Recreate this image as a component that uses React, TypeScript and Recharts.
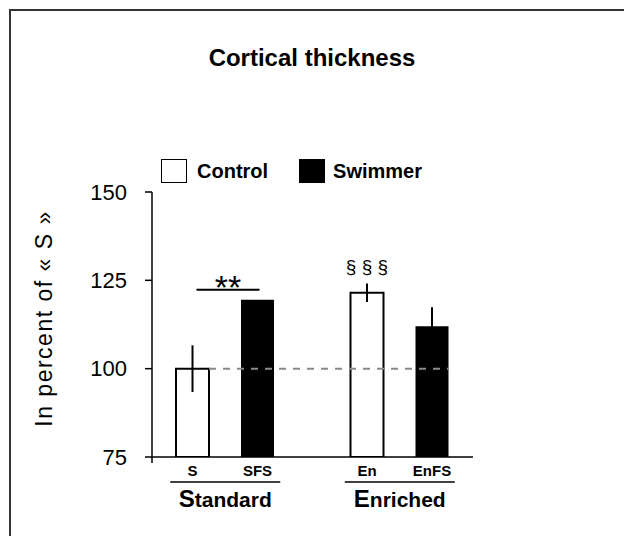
import React from 'react'
import {
  ComposedChart,
  Bar,
  XAxis,
  YAxis,
  ReferenceLine,
  ErrorBar,
  LabelList,
  Legend,
} from 'recharts'

const groups = ['Standard', 'Enriched']
const controlCodes = ['S', 'En']
const swimmerCodes = ['SFS', 'EnFS']
const controlValues = [100, 121.5]
const swimmerValues = [119.5, 112]
const controlErrors = [6.6, 2.6]
const swimmerErrors = [0, 5.4]
const controlNotes = ['', '§ § §']
const groupSig = ['**', '']
const yTicks = [75, 100, 125, 150]
const baseline = 100

const data = groups.map((g, i) => ({
  group: g,
  control: controlValues[i],
  swimmer: swimmerValues[i],
  controlErr: controlErrors[i],
  swimmerErr: swimmerErrors[i],
  controlCode: controlCodes[i],
  swimmerCode: swimmerCodes[i],
  note: controlNotes[i],
  sig: groupSig[i],
}))

const FONT = '"Liberation Sans", Arial, sans-serif'
const BAR_SIZE = 33
const BAR_GAP = 32
const X_PAD = -14
const TICK_SIZE = 7
const TICK_MARGIN = 18

// eslint-disable-next-line @typescript-eslint/no-explicit-any
const box = (p: any) => p.viewBox ?? p

// eslint-disable-next-line @typescript-eslint/no-explicit-any
function CodeLabel(props: any) {
  const { x, y, width, height } = box(props)
  return (
    <text x={x + width / 2} y={y + height + 19} textAnchor="middle" fontSize={15} fontWeight="bold" fontFamily={FONT} fill="#000">
      {props.value}
    </text>
  )
}

// eslint-disable-next-line @typescript-eslint/no-explicit-any
function NoteLabel(props: any) {
  if (!props.value) return null
  const { x, y, width } = box(props)
  return (
    <text x={x + width / 2} y={y - 20} textAnchor="middle" fontSize={19} fontFamily={FONT} fill="#000">
      {props.value}
    </text>
  )
}

// eslint-disable-next-line @typescript-eslint/no-explicit-any
function SigLabel(props: any) {
  if (!props.value) return null
  const { x, y, width } = box(props)
  const cx = x + width / 2
  const left = cx - (BAR_SIZE + BAR_GAP) + 4
  const right = cx + 2
  return (
    <g>
      <line x1={left} x2={right} y1={y - 10} y2={y - 10} stroke="#000" strokeWidth={2} />
      <text x={(left + right) / 2} y={y - 1} textAnchor="middle" fontSize={34} fontFamily={FONT} fill="#000">
        {props.value}
      </text>
    </g>
  )
}

// eslint-disable-next-line @typescript-eslint/no-explicit-any
function GroupTick({ x, y, payload }: any) {
  const name: string = payload.value
  return (
    <g>
      <line x1={x - 55} x2={x + 55} y1={y + 25} y2={y + 25} stroke="#000" strokeWidth={1.5} />
      <text x={x} y={y + 50} textAnchor="middle" fontSize={21} fontWeight="bold" fontFamily={FONT} fill="#000">
        <tspan fontSize={24}>{name[0]}</tspan>
        {name.slice(1)}
      </text>
    </g>
  )
}

// eslint-disable-next-line @typescript-eslint/no-explicit-any
function YTick({ x, y, payload }: any) {
  const axisX = x + TICK_SIZE + TICK_MARGIN
  return (
    <g>
      <text x={x} y={y} dy="0.355em" textAnchor="end" fontSize={22} fontFamily={FONT} fill="#000">
        {payload.value}
      </text>
      {payload.value === yTicks[0] && (
        <line x1={axisX} x2={axisX} y1={y} y2={y + 6} stroke="#000" strokeWidth={1.5} />
      )}
    </g>
  )
}

// eslint-disable-next-line @typescript-eslint/no-explicit-any
function LegendContent({ payload }: any) {
  return (
    <div style={{ display: 'flex', alignItems: 'center', fontFamily: FONT, fontWeight: 'bold', fontSize: 20 }}>
      {(payload ?? []).map((e: { value: string; color: string }, i: number) => (
        <div key={e.value} style={{ display: 'flex', alignItems: 'center', marginRight: i === 0 ? 31 : 0 }}>
          <span
            style={{
              width: 26,
              height: 24,
              boxSizing: 'border-box',
              border: '1.5px solid #000',
              background: e.color,
              marginRight: i === 0 ? 10 : 8,
            }}
          />
          <span>{e.value}</span>
        </div>
      ))}
    </div>
  )
}

export default function App() {
  return (
    <div style={{ position: 'absolute', left: 0, top: 0, width: 624, height: 536, background: '#fff', overflow: 'hidden' }}>
      <div
        style={{
          position: 'absolute',
          left: 9,
          top: 9,
          right: -10,
          bottom: -10,
          borderLeft: '2px solid #333',
          borderTop: '2px solid #333',
        }}
      />
      <div
        style={{
          position: 'absolute',
          left: 0,
          top: 46,
          width: 624,
          textAlign: 'center',
          fontFamily: FONT,
          fontWeight: 'bold',
          fontSize: 24,
          lineHeight: '24px',
        }}
      >
        Cortical thickness
      </div>
      <div style={{ position: 'absolute', left: 0, top: 0 }}>
        <ComposedChart
          width={624}
          height={536}
          data={data}
          barGap={BAR_GAP}
          margin={{ top: 192, right: 151, bottom: 19, left: 92 }}
        >
          <XAxis
            dataKey="group"
            padding={{ left: X_PAD, right: X_PAD }}
            axisLine={{ stroke: '#000', strokeWidth: 1.5 }}
            tickLine={false}
            tickSize={0}
            tickMargin={0}
            tick={<GroupTick />}
            interval={0}
            height={60}
          />
          <YAxis
            domain={[75, 150]}
            ticks={yTicks}
            allowDataOverflow
            width={60}
            tickSize={TICK_SIZE}
            tickMargin={TICK_MARGIN}
            axisLine={{ stroke: '#000', strokeWidth: 1.5 }}
            tickLine={{ stroke: '#000', strokeWidth: 1.5 }}
            tick={<YTick />}
            label={{
              value: 'In percent of « S »',
              angle: -90,
              position: 'center',
              dx: -78,
              dy: -6,
              style: { fontFamily: FONT, fontSize: 23, letterSpacing: 1.5, fill: '#000' },
            }}
          />
          <Legend
            verticalAlign="middle"
            align="center"
            layout="horizontal"
            wrapperStyle={{ position: 'absolute', top: 159, left: 161, width: 'auto', height: 'auto' }}
            content={<LegendContent />}
          />
          <Bar dataKey="control" name="Control" fill="#ffffff" stroke="#000" strokeWidth={2} barSize={BAR_SIZE} isAnimationActive={false}>
            <ErrorBar dataKey="controlErr" width={0} stroke="#000" strokeWidth={2} direction="y" />
            <LabelList dataKey="controlCode" content={<CodeLabel />} />
            <LabelList dataKey="note" content={<NoteLabel />} />
          </Bar>
          <Bar dataKey="swimmer" name="Swimmer" fill="#000000" barSize={BAR_SIZE} isAnimationActive={false}>
            <ErrorBar dataKey="swimmerErr" width={0} stroke="#000" strokeWidth={2} direction="y" />
            <LabelList dataKey="swimmerCode" content={<CodeLabel />} />
            <LabelList dataKey="sig" content={<SigLabel />} />
          </Bar>
          <ReferenceLine
            y={baseline}
            stroke="#8a8a8a"
            strokeWidth={2}
            strokeDasharray="7 7"
            // eslint-disable-next-line @typescript-eslint/no-explicit-any
            shape={(p: any) => (
              <line
                x1={p.x1 + X_PAD + 38 + BAR_SIZE}
                x2={p.x2 - 24.5}
                y1={p.y1}
                y2={p.y2}
                stroke="#8a8a8a"
                strokeWidth={2}
                strokeDasharray="7 7"
              />
            )}
          />
        </ComposedChart>
      </div>
    </div>
  )
}
